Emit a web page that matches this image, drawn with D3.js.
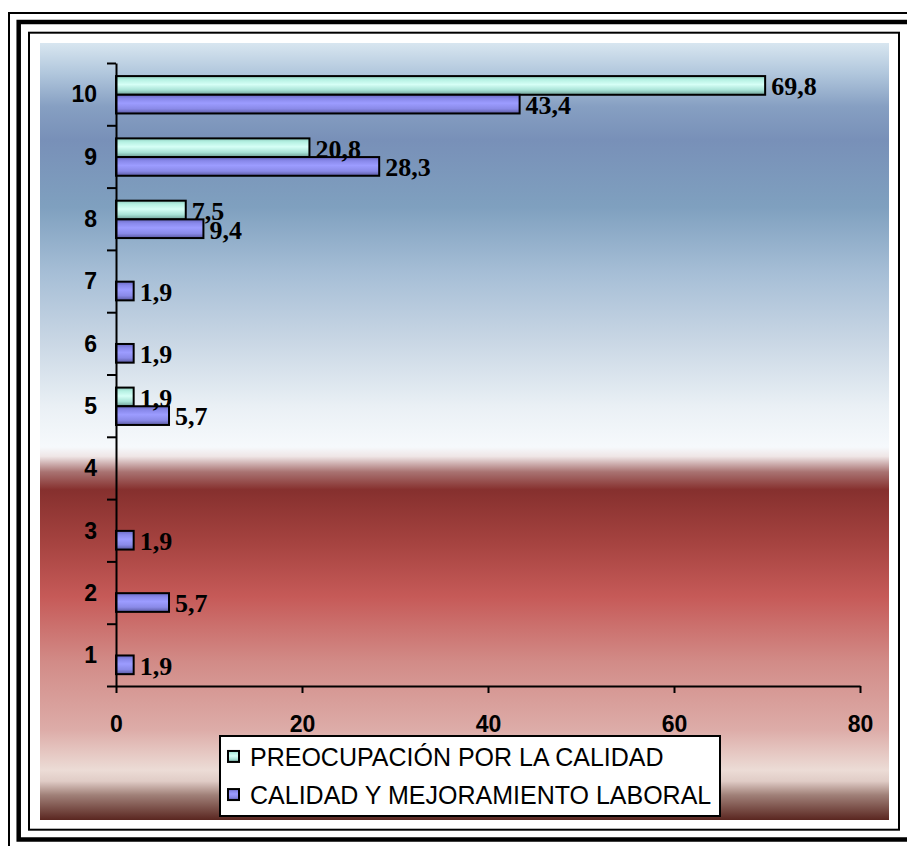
<!DOCTYPE html>
<html>
<head>
<meta charset="utf-8">
<script src="https://cdn.jsdelivr.net/npm/d3@7"></script>
<style>
  html, body { margin: 0; padding: 0; background: #fff; }
  svg { display: block; }
</style>
</head>
<body>
<svg id="chart" width="907" height="846"></svg>
<script>
// Survey scores 1–10 (percent of respondents) for two dimensions
const categories = ["10", "9", "8", "7", "6", "5", "4", "3", "2", "1"];
const seriesNames = ["PREOCUPACIÓN POR LA CALIDAD", "CALIDAD Y MEJORAMIENTO LABORAL"];
const preocupacion = [69.8, 20.8, 7.5, null, null, 1.9, null, null, null, null];
const mejoramiento = [43.4, 28.3, 9.4, 1.9, 1.9, 5.7, null, 1.9, 5.7, 1.9];
const xTicks = [0, 20, 40, 60, 80];

const seriesValues = [preocupacion, mejoramiento];
const fmt = v => String(v).replace(".", ",");

const svg = d3.select("#chart");
const defs = svg.append("defs");

// Plot-area backdrop: blue sky fading to white, then a deep red band
const bgStops = [
  [0.000, "#d8e6f0"], [0.040, "#b0c6dc"], [0.082, "#869fc2"], [0.125, "#7890b8"],
  [0.211, "#7fa0bf"], [0.296, "#a6bed6"], [0.382, "#c8d6e4"], [0.468, "#eaf0f5"],
  [0.520, "#f6f9fc"], [0.532, "#efe6e6"], [0.552, "#a97372"], [0.575, "#86302e"],
  [0.640, "#a4423f"], [0.713, "#c65a58"], [0.798, "#d28c88"], [0.884, "#ddaca8"],
  [0.936, "#ecdcd6"], [0.950, "#e0ccc6"], [0.968, "#a08078"], [1.000, "#5a2620"]
];
const bg = defs.append("linearGradient").attr("id", "bg")
  .attr("x1", 0).attr("y1", 0).attr("x2", 0).attr("y2", 1);
bgStops.forEach(([o, c]) => bg.append("stop").attr("offset", o).attr("stop-color", c));

// Tube-like shading for the bars
const barStops = [
  [[0, "#8ccabc"], [0.18, "#b4f0e2"], [0.45, "#d6fff6"], [0.75, "#a8e2d6"], [1, "#6c9c94"]],
  [[0, "#6a6ac4"], [0.2, "#8888ea"], [0.45, "#9c9cff"], [0.75, "#8a8ae8"], [1, "#5a5aa2"]]
];
barStops.forEach((stops, i) => {
  const g = defs.append("linearGradient").attr("id", "bar" + i)
    .attr("x1", 0).attr("y1", 0).attr("x2", 0).attr("y2", 1);
  stops.forEach(([o, c]) => g.append("stop").attr("offset", o).attr("stop-color", c));
});

// Triple frame
svg.append("rect").attr("x", 9).attr("y", 13).attr("width", 1000).attr("height", 1000)
  .attr("fill", "none").attr("stroke", "#000").attr("stroke-width", 2);
svg.append("rect").attr("x", 18.7).attr("y", 22).attr("width", 1000).attr("height", 817.5)
  .attr("fill", "none").attr("stroke", "#000").attr("stroke-width", 4.5);
svg.append("rect").attr("x", 29).attr("y", 32.7).attr("width", 870).attr("height", 797)
  .attr("fill", "none").attr("stroke", "#000").attr("stroke-width", 2);

svg.append("rect").attr("x", 40).attr("y", 43).attr("width", 849).attr("height", 777)
  .attr("fill", "url(#bg)");

// Scales
const x = d3.scaleLinear().domain([0, 80]).range([116, 860]);
const yBand = d3.scaleBand().domain(categories).range([63, 686]).padding(0);
const bw = yBand.bandwidth();
const ySub = d3.scaleBand().domain(seriesNames).range([bw * 0.21, bw * 0.81]).padding(0);
const yLin = d3.scaleLinear().domain([0, categories.length]).range([686, 63]);

// Bars
const bars = [];
seriesValues.forEach((vals, si) => {
  vals.forEach((v, ci) => {
    if (v != null && v > 0) bars.push({ cat: categories[ci], s: seriesNames[si], si, v });
  });
});

const gBars = svg.append("g");
gBars.selectAll("rect").data(bars).join("rect")
  .attr("x", x(0))
  .attr("y", d => yBand(d.cat) + ySub(d.s))
  .attr("width", d => x(d.v) - x(0))
  .attr("height", ySub.bandwidth())
  .attr("fill", d => "url(#bar" + d.si + ")")
  .attr("stroke", "#000").attr("stroke-width", 2);

gBars.selectAll("text").data(bars).join("text")
  .attr("x", d => x(d.v) + 6)
  .attr("y", d => yBand(d.cat) + ySub(d.s) + ySub.bandwidth() + 0.5)
  .attr("font-family", "'Times New Roman', 'Liberation Serif', serif")
  .attr("font-weight", "bold").attr("font-size", 26)
  .attr("fill", "#000")
  .text(d => fmt(d.v));

// Axes
const axisFont = "Arial, 'Liberation Sans', sans-serif";

const gx = svg.append("g").attr("transform", `translate(0,${686})`)
  .call(d3.axisBottom(x).tickValues(xTicks).tickSize(7).tickSizeOuter(0));
gx.select(".domain").attr("stroke-width", 2);
gx.selectAll(".tick line").attr("stroke-width", 2);
gx.selectAll(".tick text")
  .attr("y", 46).attr("dy", 0)
  .attr("font-family", axisFont).attr("font-weight", "bold").attr("font-size", 23)
  .attr("fill", "#000");

const gyTicks = svg.append("g").attr("transform", `translate(${116},0)`)
  .call(d3.axisLeft(yLin).ticks(categories.length).tickSize(9).tickSizeOuter(0).tickFormat(""));
gyTicks.select(".domain").attr("stroke-width", 2);
gyTicks.selectAll(".tick line").attr("stroke-width", 2);

const gyLabels = svg.append("g").attr("transform", `translate(${116},0)`)
  .call(d3.axisLeft(yBand).tickSize(0).tickPadding(19));
gyLabels.select(".domain").remove();
gyLabels.selectAll(".tick text")
  .attr("dy", "0.36em")
  .attr("font-family", axisFont).attr("font-weight", "bold").attr("font-size", 23)
  .attr("fill", "#000");

// Legend
const legend = svg.append("g");
legend.append("rect").attr("x", 220).attr("y", 736).attr("width", 500).attr("height", 80)
  .attr("fill", "#fff").attr("stroke", "#000").attr("stroke-width", 2);
const legendRow = d3.scaleBand().domain(seriesNames).range([736, 816]).paddingOuter(0.05);
const items = legend.selectAll("g.item").data(seriesNames).join("g").attr("class", "item");
items.append("rect")
  .attr("x", 228).attr("y", d => legendRow(d) + legendRow.bandwidth() / 2 - 6)
  .attr("width", 11).attr("height", 11)
  .attr("fill", (d, i) => "url(#bar" + i + ")")
  .attr("stroke", "#000").attr("stroke-width", 2);
items.append("text")
  .attr("x", 250).attr("y", d => legendRow(d) + legendRow.bandwidth() / 2 + 9)
  .attr("font-family", axisFont).attr("font-size", 25).attr("fill", "#000")
  .text(d => d);
</script>
</body>
</html>
